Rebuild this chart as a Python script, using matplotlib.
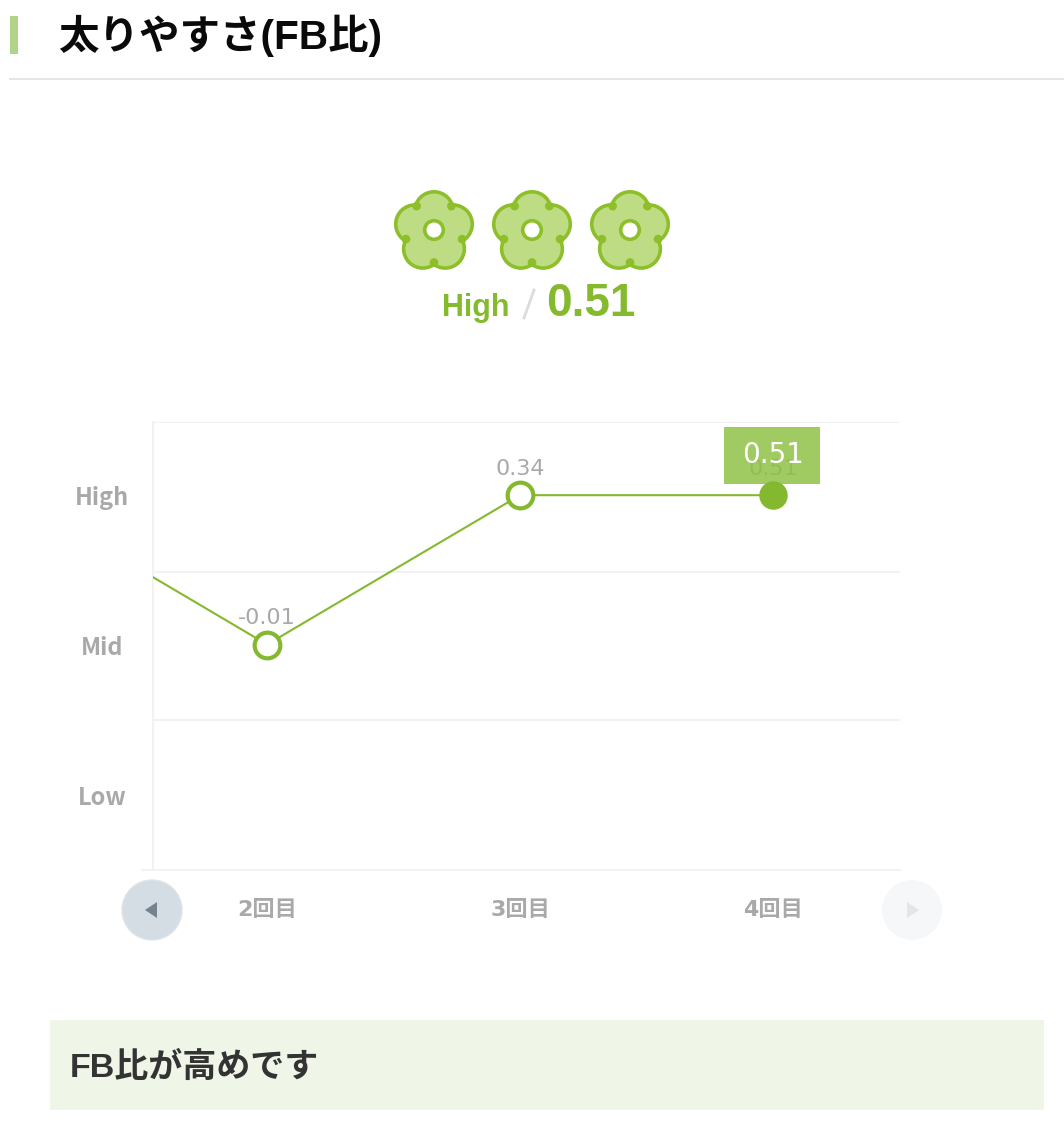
import numpy as np
import matplotlib
matplotlib.use("Agg")
import matplotlib.pyplot as plt
from matplotlib.patches import Circle, Rectangle, Polygon

plt.rcParams['font.family'] = ['Noto Sans CJK JP', 'DejaVu Sans']

W, H = 1064, 1124

# data
rounds = ['1回目', '2回目', '3回目', '4回目']
levels = [2.51, 1.51, 2.51, 2.51]   # height on the chart, first point is scrolled off
values = [None, '-0.01', '0.34', '0.51']
band_names = ['Low', 'Mid', 'High']
band_centres = [0.5, 1.505, 2.51]
band_edges = [0, 1.005, 1.995, 3]

GREEN = '#84b92f'
GRID = '#f1f2f3'
GREY = '#a9a9a9'
MIXED = ['Liberation Sans', 'Noto Sans CJK JP']


def flower(ax, cx, cy):
    angles = np.deg2rad(90 + 72 * np.arange(5))
    centres = []
    for i, a in enumerate(angles):
        px_, py_ = cx + 19 * np.cos(a), cy - 19 * np.sin(a)
        if i in (1, 4):     # side petals sit a little wider
            px_ += np.sign(np.cos(a))
        if i in (2, 3):     # bottom petals hang lower than a regular flower
            py_ += 3.5
        centres.append((px_, py_))
    for c in centres:
        ax.add_patch(Circle(c, 21, fc='#8dbf2a', ec='none'))
    for c in centres:
        ax.add_patch(Circle(c, 17.4, fc='#bddc83', ec='none'))
    ax.add_patch(Circle((cx, cy + 1), 21, fc='#bddc83', ec='none'))
    for i, a in enumerate(angles + np.deg2rad(36)):
        r = 32.5 if i == 2 else 29.5     # bottom notch is deeper
        ax.add_patch(Circle((cx + r * np.cos(a), cy - r * np.sin(a)), 4.3, fc='#8dbf2a', ec='none'))
    ax.add_patch(Circle((cx, cy), 9.3, fc='white', ec='#8dbf2a', lw=2.6))


fig = plt.figure(figsize=(W / 100, H / 100), dpi=100)

# page furniture in pixel coordinates
px = fig.add_axes([0, 0, 1, 1])
px.set_xlim(0, W)
px.set_ylim(H, 0)
px.axis('off')

px.add_patch(Rectangle((10, 16), 8, 38, fc='#b2d48a', ec='none'))
px.text(58, 36, '太りやすさ(FB比)', fontsize=29.2, fontweight='bold', color='#0a0a0a', va='center',
        family=MIXED)
px.plot([10, W], [79, 79], color='#e6e6e6', lw=1.5)

for cx in [434, 532, 630]:
    flower(px, cx, 230)

px.text(476, 316, 'High', fontsize=22, fontweight='bold', color='#86ba2e', ha='center', va='baseline',
        family='Liberation Sans')
px.plot([524, 534], [318, 290], color='#dcdcdc', lw=2)
px.text(591, 316, values[-1], fontsize=33, fontweight='bold', color='#86ba2e', ha='center', va='baseline',
        family='Liberation Sans')

# scroll buttons
px.add_patch(Circle((152, 910), 30, fc='#d4dce4', ec='#dfe4e9', lw=1))
px.add_patch(Polygon([[145, 910], [157, 902], [157, 918]], fc='#75838f', ec='none'))
px.add_patch(Circle((912, 910), 30, fc='#f6f7f9', ec='none'))
px.add_patch(Polygon([[919, 910], [907, 902], [907, 918]], fc='#e2e5e9', ec='none'))

# bottom message box
px.add_patch(Rectangle((50, 1020), 994, 90, fc='#f0f6e7', ec='none'))
px.text(70, 1068, 'FB比が高めです', fontsize=24.5, fontweight='bold', color='#333333', va='center',
        family=MIXED)

# chart
left, right, top, bottom = 153, 900, 422, 870
ax = fig.add_axes([left / W, 1 - bottom / H, (right - left) / W, (bottom - top) / H])
ax.patch.set_alpha(0)
x = np.arange(len(rounds))
ax.set_xlim(0.549, 3.502)
ax.set_ylim(0, 3)

ax.set_yticks(band_edges)
ax.set_yticklabels([])
ax.set_yticks(band_centres, band_names, minor=True)
ax.set_xticks([])
ax.set_xticks(x[1:], rounds[1:], minor=True)
ax.grid(axis='y', color=GRID, lw=1.4)
ax.tick_params(axis='both', which='major', length=0)
ax.tick_params(axis='x', which='minor', length=0, pad=21.5, labelcolor=GREY, labelsize=16)
ax.tick_params(axis='y', which='minor', length=0, pad=36.7, labelcolor=GREY, labelsize=17)
for t in ax.get_xticklabels(minor=True):
    t.set_fontweight('bold')
    t.set_family(['DejaVu Sans', 'Noto Sans CJK JP'])
for t in ax.get_yticklabels(minor=True):
    t.set_fontweight('bold')
    t.set_ha('center')
for s in ['top', 'right']:
    ax.spines[s].set_visible(False)
for s in ['left', 'bottom']:
    ax.spines[s].set_color(GRID)
    ax.spines[s].set_linewidth(1.4)
px.plot([142, 153], [870, 870], color=GRID, lw=1.4)

ax.plot(x, levels, color=GREEN, lw=1.5, zorder=3)
ax.plot(x[1:-1], levels[1:-1], 'o', ms=18.5, mfc='white', mec=GREEN, mew=3, zorder=5, ls='none')
for xi, lv, v in zip(x[1:], levels[1:], values[1:]):
    ax.annotate(v, (xi, lv), xytext=(0, 11.8), textcoords='offset points', ha='center', va='bottom',
                fontsize=16, color=GREY, family='DejaVu Sans', zorder=4)

# tooltip on the latest point, label underneath shows through
ax.add_patch(Rectangle((724, 427), 96, 57, transform=px.transData, fc='#8fc146', ec='none',
                       alpha=0.85, zorder=6, clip_on=False))
ax.plot(x[-1:], levels[-1:], 'o', ms=20.5, mfc=GREEN, mec=GREEN, mew=0, zorder=7, ls='none')
ax.text(773.5, 455, values[-1], transform=px.transData, fontsize=20, color='white', ha='center',
        va='center', family='DejaVu Sans', zorder=8)

fig.savefig('out.png', dpi=100)
